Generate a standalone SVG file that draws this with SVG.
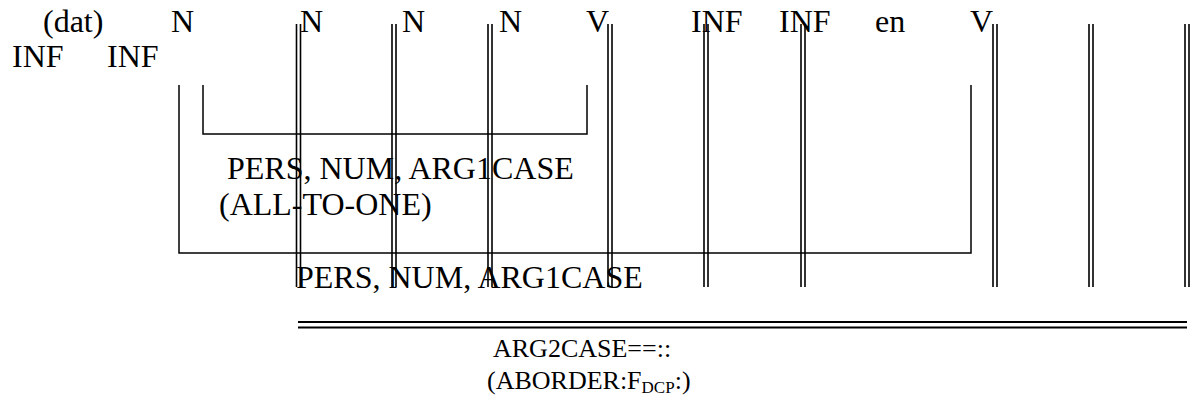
<svg xmlns="http://www.w3.org/2000/svg" width="1191" height="410" viewBox="0 0 1191 410">
<style>
text{font-family:"Liberation Serif","Times New Roman",serif;fill:#000}
.t{font-size:32px}
.b{font-size:26px}
.v{stroke:#000;stroke-width:1.6;fill:none}
.br{stroke:#000;stroke-width:1.5;fill:none}
.h{stroke:#000;stroke-width:2.2;fill:none}
</style>
<rect width="1191" height="410" fill="#fff"/>
<g id="labels-row1" class="t">
<text x="43" y="32">(dat)</text>
<text x="171" y="32">N</text>
<text x="300" y="32">N</text>
<text x="402" y="32">N</text>
<text x="499" y="32">N</text>
<text x="586" y="32">V</text>
<text x="691" y="32">INF</text>
<text x="779" y="32">INF</text>
<text x="875" y="32">en</text>
<text x="970" y="32">V</text>
</g>
<g id="labels-row2" class="t">
<text x="12" y="67">INF</text>
<text x="107" y="67">INF</text>
</g>
<g id="connectors">
<path class="v" d="M296.5 24V287M300.5 24V287M392 24V287M396 24V287M488 24V287M492 24V287M608 24V287M612 24V287M704 24V287M708 24V287M801 24V287M805 24V287M993 24V287M997 24V287M1089 24V287M1093 24V287M1185 24V287M1189 24V287"/>
<path class="br" d="M203 85V134H587V85"/>
<path class="br" d="M179 85V253H971V85"/>
<path class="h" d="M298 322H1187M298 327.5H1187"/>
</g>
<g id="feature-upper" class="t">
<text x="227" y="179">PERS, NUM, ARG1CASE</text>
<text x="219" y="215">(ALL-TO-ONE)</text>
</g>
<g id="feature-lower" class="t">
<text x="296" y="288">PERS, NUM, ARG1CASE</text>
</g>
<g id="feature-bottom" class="b">
<text x="493" y="357">ARG2CASE==::</text>
<text x="487" y="389">(ABORDER:F<tspan font-size="17" dy="4">DCP</tspan><tspan dy="-4">:)</tspan></text>
</g>
</svg>
